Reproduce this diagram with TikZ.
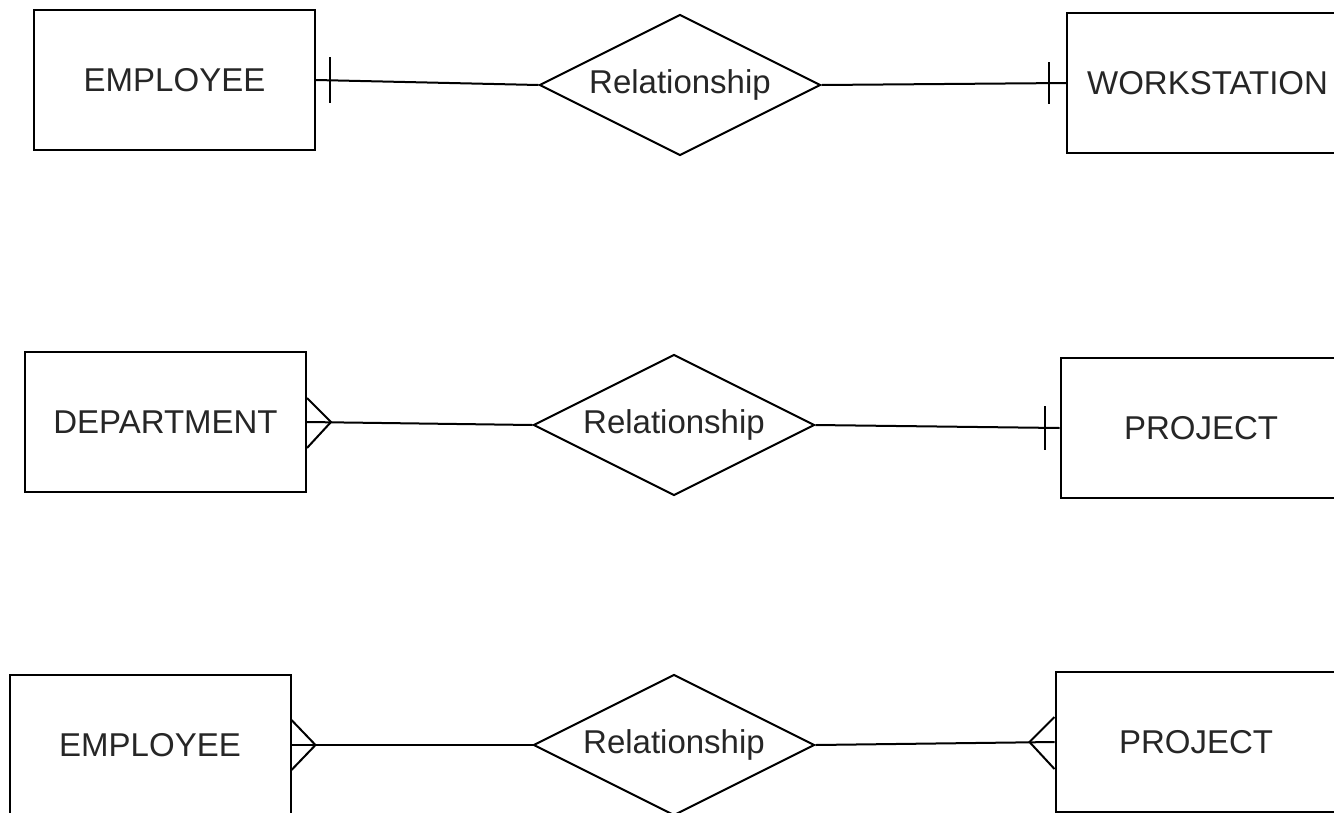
\documentclass[tikz,border=0pt]{standalone}
\usepackage{fontspec}
\setmainfont{Liberation Sans}
\usetikzlibrary{shapes.geometric}

\begin{document}
\begin{tikzpicture}[x=1pt,y=-1pt]
	\tikzstyle{entity}=[rectangle,draw,line width=2pt,minimum width=281pt,minimum height=140pt,inner sep=0pt,text=black!85,font=\fontsize{33}{36}\selectfont]
	\tikzstyle{relation}=[diamond,draw,line width=2pt,aspect=2,minimum width=281pt,minimum height=141pt,inner sep=0pt,text=black!85,font=\fontsize{33}{36}\selectfont]
	\tikzstyle{link}=[line width=2pt]
	\useasboundingbox (0,0) rectangle (1334,812);
	\clip (0,0) rectangle (1334,812);
	% one to one
	\node (emp1)  at (174.5,80)  [entity]   {EMPLOYEE};
	\node (rel1)  at (680,85)    [relation] {Relationship};
	\node (ws)    at (1207.5,83) [entity]   {WORKSTATION};
	% many to one
	\node (dept)  at (165.5,422) [entity]   {DEPARTMENT};
	\node (rel2)  at (674,425)   [relation] {Relationship};
	\node (proj1) at (1201,428)  [entity]   {PROJECT};
	% many to many
	\node (emp2)  at (150,745)   [entity]   {EMPLOYEE};
	\node (rel3)  at (674,745)   [relation] {Relationship};
	\node (proj2) at (1196,742)  [entity]   {PROJECT};
	\draw [link] (emp1.east) -- (rel1.west);
	\draw [link] (rel1.east) -- (ws.west);
	\draw [link] (dept.east) -- (rel2.west);
	\draw [link] (rel2.east) -- (proj1.west);
	\draw [link] (emp2.east) -- (rel3.west);
	\draw [link] (rel3.east) -- (proj2.west);
	% bars
	\draw [link] ([xshift=14pt,yshift=23pt]emp1.east) -- ([xshift=14pt,yshift=-23pt]emp1.east);
	\draw [link] ([xshift=-17pt,yshift=21pt]ws.west) -- ([xshift=-17pt,yshift=-21pt]ws.west);
	\draw [link] ([xshift=-15pt,yshift=22pt]proj1.west) -- ([xshift=-15pt,yshift=-22pt]proj1.west);
	% crow's feet
	\draw [link] ([yshift=24pt]dept.east) -- ([xshift=24pt]dept.east) -- ([yshift=-26pt]dept.east);
	\draw [link] ([yshift=25pt]emp2.east) -- ([xshift=24pt]emp2.east) -- ([yshift=-25pt]emp2.east);
	\draw [link] ([yshift=25pt]proj2.west) -- ([xshift=-25pt]proj2.west) -- ([yshift=-27pt]proj2.west);
\end{tikzpicture}
\end{document}
